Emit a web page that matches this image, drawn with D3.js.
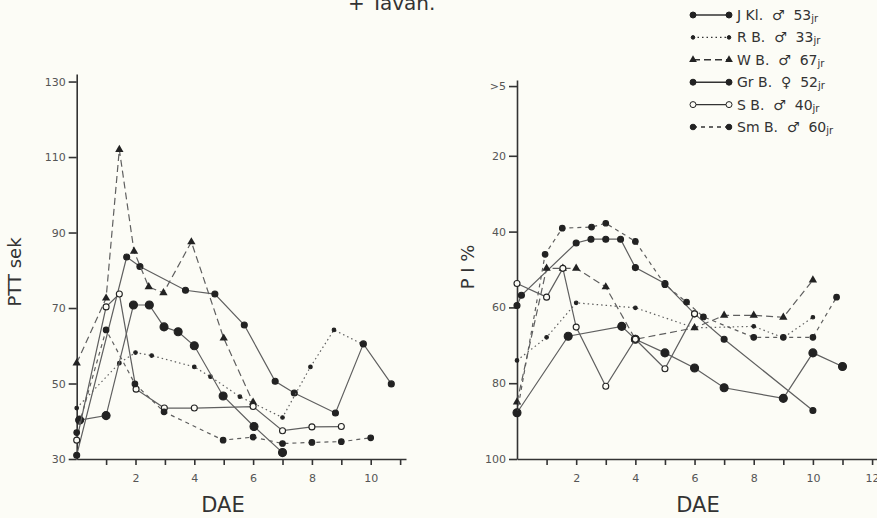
<!DOCTYPE html>
<html>
<head>
  <meta charset="utf-8"/>
  <style>
    body { margin: 0; background: #fcfcf6; }
    svg { background-color: #fcfcf6; display: block; }
    text { font-family: "DejaVu Sans", "Liberation Sans", sans-serif; fill: #333; }
    .tick text { font-size: 11px; fill: #555; }
    .axis path, .axis line { stroke: #333; stroke-width: 1.6; }
  </style>
</head>
<body>
  <div id="chart"></div>
  <script src="https://d3js.org/d3.v7.min.js"></script>
  <script>
    // patients (legend order)
    let patients = ['J Kl.', 'R B.', 'W B.', 'Gr B.', 'S B.', 'Sm B.'];
    let sexes = ['\u2642', '\u2642', '\u2642', '\u2640', '\u2642', '\u2642'];
    let ages = ['53', '33', '67', '52', '40', '60'];

    // PTT (sek) per DAE, [day, value]
    let pttJKl = [[0, 31], [1.7, 83.5], [2.15, 81], [3.7, 74.7], [4.7, 73.7], [5.7, 65.5], [6.75, 50.6], [7.4, 47.5], [8.8, 42.2], [9.75, 60.5], [10.7, 49.9]];
    let pttRB = [[0, 43.5], [1.45, 55.4], [2, 58.2], [2.55, 57.4], [4, 54.4], [4.55, 51.8], [5.55, 46.5], [7, 41], [7.95, 54.4], [8.75, 64.2], [9.7, 60.5]];
    let pttWB = [[0, 55.4], [1, 72.6], [1.45, 112], [1.95, 85], [2.45, 75.6], [2.95, 74], [3.9, 87.5], [5, 62], [6, 45]];
    let pttGrB = [[0.1, 40.3], [1, 41.5], [1.93, 70.8], [2.47, 70.8], [2.97, 65], [3.45, 63.7], [4, 60], [4.98, 46.7], [6.03, 38.6], [7, 31.7]];
    let pttSB = [[0, 35], [1, 70.3], [1.45, 73.7], [2.02, 48.5], [2.98, 43.5], [4, 43.5], [6, 43.9], [7, 37.5], [8, 38.5], [9, 38.6]];
    let pttSmB = [[0, 37], [1, 64.2], [1.98, 49.9], [2.97, 42.5], [4.98, 35], [6, 35.8], [7, 34.1], [8, 34.4], [9, 34.6], [10, 35.6]];

    // PI (%) per DAE
    let piJKl = [[0, 59.5], [0.15, 56.8], [2, 43], [2.5, 42], [3, 42], [3.5, 42], [4, 49.5], [5, 53.7], [6, 61.7], [7, 68.4], [10, 87.2]];
    let piRB = [[0, 74], [1, 67.9], [2, 58.8], [4, 60.1], [6, 65.4], [8, 65], [9, 68], [10, 62.6]];
    let piWB = [[0, 85], [1, 49.7], [1.55, 49.7], [2, 49.7], [3, 54.6], [4, 68.4], [6, 65.4], [7, 62.1], [8, 62.1], [9, 62.6], [10, 52.8]];
    let piGrB = [[0, 87.8], [1.73, 67.6], [3.54, 65], [4, 68.4], [5, 72], [6, 76], [7, 81.2], [9, 84], [10, 72], [11, 75.6]];
    let piSB = [[0, 53.7], [1, 57.3], [1.55, 49.7], [2, 65.2], [3, 80.8], [4, 68.4], [5, 76.2], [6, 61.7]];
    let piSmB = [[0, 88], [0.95, 46], [1.53, 39.1], [2.52, 38.8], [3, 37.8], [4, 42.6], [5, 54], [5.73, 58.6], [6.3, 62.5], [8, 67.9], [9, 67.9], [10, 67.9], [10.8, 57.3]];

    let pttTicks = [30, 50, 70, 90, 110, 130];
    let piTicks = [1.6, 20, 40, 60, 80, 100];
    let piTickLabels = ['>5', '20', '40', '60', '80', '100'];

    let width = 877, height = 518;

    let styles = [
      {dash: null, marker: 'dot', r: 3},
      {dash: '1.5,3', marker: 'dot', r: 1.8},
      {dash: '7,4', marker: 'tri', r: 3},
      {dash: null, marker: 'dot', r: 4},
      {dash: null, marker: 'open', r: 3},
      {dash: '4,4', marker: 'dot', r: 2.8}
    ];

    let svg = d3.select('#chart')
        .append('svg')
        .attr('width', width)
        .attr('height', height);

    function drawSeries(g, series, x, y) {
      let line = d3.line().x(d => x(d[0])).y(d => y(d[1]));
      series.forEach(function (s, i) {
        let st = styles[i];
        g.append('path')
            .attr('d', line(s))
            .attr('fill', 'none')
            .attr('stroke', '#5f5f5f')
            .attr('stroke-width', 1.2)
            .attr('stroke-dasharray', st.dash);
        if (st.marker === 'tri') {
          g.selectAll(null).data(s).enter().append('path')
              .attr('d', d3.symbol(d3.symbolTriangle, 30))
              .attr('transform', d => 'translate(' + x(d[0]) + ',' + y(d[1]) + ')')
              .attr('fill', '#222');
        } else {
          g.selectAll(null).data(s).enter().append('circle')
              .attr('cx', d => x(d[0]))
              .attr('cy', d => y(d[1]))
              .attr('r', st.r)
              .attr('fill', st.marker === 'open' ? '#fcfcf6' : '#222')
              .attr('stroke', '#222')
              .attr('stroke-width', 1.1);
        }
      });
    }

    // left panel: PTT
    let x1 = d3.scaleLinear().domain([0, 11.2]).range([76.7, 406]);
    let y1 = d3.scaleLinear().domain([30, 132]).range([459, 74]);

    let left = svg.append('g');
    left.append('g')
        .attr('class', 'axis')
        .attr('transform', 'translate(0,459)')
        .call(d3.axisBottom(x1).tickValues(d3.range(1, 12)).tickSize(6).tickSizeOuter(0)
            .tickFormat(d => d % 2 === 0 ? d : ''))
        .call(g => g.selectAll('.tick text').attr('dy', '1.3em'));
    left.append('g')
        .attr('class', 'axis')
        .attr('transform', 'translate(76.7,0)')
        .call(d3.axisLeft(y1).tickValues(pttTicks).tickSize(8).tickSizeOuter(0));
    drawSeries(left, [pttJKl, pttRB, pttWB, pttGrB, pttSB, pttSmB], x1, y1);

    left.append('text')
        .attr('transform', 'translate(21,272) rotate(-90)')
        .attr('text-anchor', 'middle')
        .style('font-size', '18px')
        .text('PTT sek');
    left.append('text')
        .attr('x', 223).attr('y', 512)
        .attr('text-anchor', 'middle')
        .style('font-size', '21px')
        .text('DAE');

    // right panel: PI
    let x2 = d3.scaleLinear().domain([0, 12.2]).range([517, 878]);
    let y2 = d3.scaleLinear().domain([0, 100]).range([80, 459]);

    let right = svg.append('g');
    right.append('g')
        .attr('class', 'axis')
        .attr('transform', 'translate(0,459)')
        .call(d3.axisBottom(x2).tickValues(d3.range(1, 13)).tickSize(6).tickSizeOuter(0)
            .tickFormat(d => d % 2 === 0 ? d : ''))
        .call(g => g.selectAll('.tick text').attr('dy', '1.3em'));
    right.append('g')
        .attr('class', 'axis')
        .attr('transform', 'translate(517,0)')
        .call(d3.axisLeft(y2).tickValues(piTicks).tickSize(8).tickSizeOuter(0)
            .tickFormat((d, i) => piTickLabels[i]));
    drawSeries(right, [piJKl, piRB, piWB, piGrB, piSB, piSmB], x2, y2);

    right.append('text')
        .attr('transform', 'translate(474,267) rotate(-90)')
        .attr('text-anchor', 'middle')
        .style('font-size', '18px')
        .text('P I %');
    right.append('text')
        .attr('x', 698).attr('y', 512)
        .attr('text-anchor', 'middle')
        .style('font-size', '21px')
        .text('DAE');

    // title, cut at the top edge
    svg.append('text')
        .attr('x', 348).attr('y', 10)
        .style('font-size', '20px')
        .text('+ Tavan.');

    // legend
    let legend = svg.append('g').attr('transform', 'translate(693,15)');
    patients.forEach(function (p, i) {
      let st = styles[i];
      let row = legend.append('g').attr('transform', 'translate(0,' + i * 22.4 + ')');
      row.append('line')
          .attr('x1', 0).attr('x2', 36)
          .attr('stroke', '#333').attr('stroke-width', 1.4)
          .attr('stroke-dasharray', st.dash);
      [0, 36].forEach(function (mx) {
        if (st.marker === 'tri') {
          row.append('path')
              .attr('d', d3.symbol(d3.symbolTriangle, 26))
              .attr('transform', 'translate(' + mx + ',0)')
              .attr('fill', '#222');
        } else {
          row.append('circle')
              .attr('cx', mx).attr('r', Math.min(st.r, 3))
              .attr('fill', st.marker === 'open' ? '#fcfcf6' : '#222')
              .attr('stroke', '#222');
        }
      });
      let t = row.append('text')
          .attr('x', 44).attr('y', 5)
          .style('font-size', '14px')
          .attr('xml:space', 'preserve');
      t.append('tspan').text(p + '  ' + sexes[i] + '  ' + ages[i]);
      t.append('tspan').style('font-size', '10px').attr('dy', 2).text('jr');
    });
  </script>
</body>
</html>
